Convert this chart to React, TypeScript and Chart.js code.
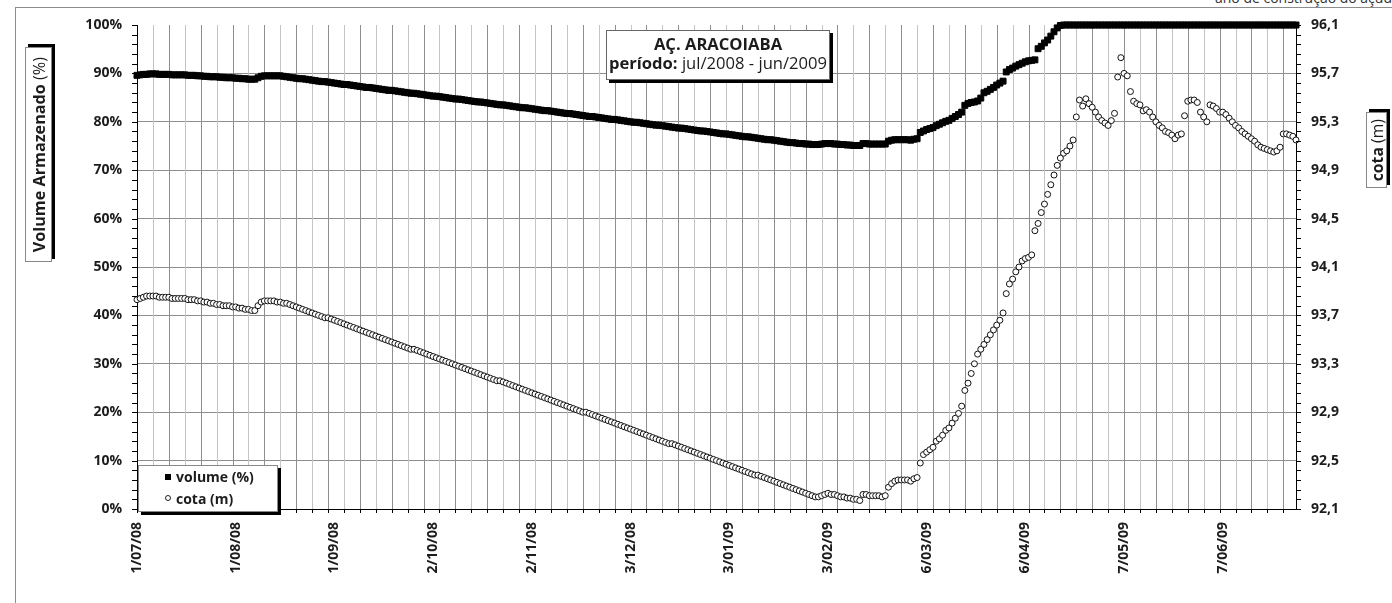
import React, { useEffect, useRef } from 'react';
import { Chart, registerables } from 'chart.js';

Chart.register(...registerables);

const xTickDays = [0, 31, 62, 93, 124, 155, 186, 217, 248, 279, 310, 341];
const xTickLabels = ['1/07/08', '1/08/08', '1/09/08', '2/10/08', '2/11/08', '3/12/08', '3/01/09', '3/02/09', '6/03/09', '6/04/09', '7/05/09', '7/06/09'];
const volumeTicks = [0, 10, 20, 30, 40, 50, 60, 70, 80, 90, 100];
const cotaTicks = [92.1, 92.5, 92.9, 93.3, 93.7, 94.1, 94.5, 94.9, 95.3, 95.7, 96.1];
const cotaTickLabels = ['92,1', '92,5', '92,9', '93,3', '93,7', '94,1', '94,5', '94,9', '95,3', '95,7', '96,1'];

// daily values, 1/07/2008 .. 30/06/2009
const volume = [
  89.6, 89.7, 89.8, 89.8, 89.9, 89.9, 89.9, 89.8, 89.8, 89.8,
  89.8, 89.7, 89.7, 89.7, 89.7, 89.7, 89.6, 89.6, 89.6, 89.5,
  89.5, 89.4, 89.4, 89.3, 89.3, 89.3, 89.2, 89.2, 89.1, 89.1,
  89.1, 89.0, 89.0, 88.9, 88.9, 88.8, 88.8, 88.8, 89.1, 89.4,
  89.5, 89.5, 89.5, 89.5, 89.5, 89.5,
  89.4, 89.3, 89.2, 89.1, 89.0, 88.9, 88.9,
  88.8, 88.7, 88.6, 88.5, 88.4, 88.3, 88.3,
  88.2, 88.1, 88.0, 87.9, 87.8, 87.7, 87.7,
  87.6, 87.5, 87.4, 87.3, 87.2, 87.1, 87.1,
  87.0, 86.9, 86.8, 86.7, 86.6, 86.5, 86.5,
  86.4, 86.3, 86.2, 86.1, 86.0, 85.9, 85.9,
  85.8, 85.7, 85.6, 85.5, 85.4, 85.3, 85.3,
  85.2, 85.1, 85.0, 84.9, 84.8, 84.7, 84.7,
  84.6, 84.5, 84.4, 84.3, 84.2, 84.1, 84.1,
  84.0, 83.9, 83.8, 83.7, 83.6, 83.5, 83.5,
  83.4, 83.3, 83.2, 83.1, 83.0, 82.9, 82.9,
  82.8, 82.7, 82.6, 82.5, 82.4, 82.3, 82.3,
  82.2, 82.1, 82.0, 81.9, 81.8, 81.7, 81.7,
  81.6, 81.5, 81.4, 81.3, 81.2, 81.1, 81.1,
  81.0, 80.9, 80.8, 80.7, 80.6, 80.5, 80.5,
  80.4, 80.3, 80.2, 80.1, 80.0, 79.9, 79.9,
  79.8, 79.7, 79.6, 79.5, 79.4, 79.3, 79.3,
  79.2, 79.1, 79.0, 78.9, 78.8, 78.7, 78.7,
  78.6, 78.5, 78.4, 78.3, 78.2, 78.1, 78.1,
  78.0, 77.9, 77.8, 77.7, 77.6, 77.5, 77.5,
  77.4, 77.3, 77.2, 77.1, 77.0, 76.9, 76.9,
  76.8, 76.7, 76.6, 76.5, 76.4, 76.3, 76.3,
  76.2, 76.1, 76.0, 75.9, 75.8, 75.7, 75.7,
  75.6, 75.5, 75.5, 75.4, 75.4, 75.3,
  75.3, 75.3, 75.4, 75.5, 75.5, 75.5, 75.4, 75.4, 75.3, 75.3,
  75.2, 75.2, 75.1, 75.1, 75.1, 75.5, 75.5, 75.4, 75.4, 75.4,
  75.4, 75.4, 75.4, 76.0, 76.2, 76.3, 76.3, 76.3, 76.3, 76.3,
  76.2, 76.4, 76.5,
  77.8, 78.1, 78.4, 78.6, 78.8, 79.2, 79.5, 79.8, 80.1, 80.3,
  80.7, 81.1, 81.5, 82.0, 83.4, 83.8, 84.0, 84.1, 84.3, 84.9,
  86.0, 86.3, 86.7, 87.1, 87.6, 88.0, 88.4, 90.3, 90.8, 91.1,
  91.5, 91.8, 92.1, 92.4, 92.6, 92.7, 92.8, 95.1, 95.6, 96.3,
  96.9, 97.7, 98.6, 99.4, 99.9,
  100, 100, 100, 100, 100, 100, 100, 100, 100, 100,
  100, 100, 100, 100, 100, 100, 100, 100, 100, 100,
  100, 100, 100, 100, 100, 100, 100, 100, 100, 100,
  100, 100, 100, 100, 100, 100, 100, 100, 100, 100,
  100, 100, 100, 100, 100, 100, 100, 100, 100, 100,
  100, 100, 100, 100, 100, 100, 100, 100, 100, 100,
  100, 100, 100, 100, 100, 100, 100, 100, 100, 100,
  100, 100, 100, 100,
];

const cota = [
  93.83, 93.84, 93.85, 93.86, 93.86, 93.86, 93.86, 93.85, 93.85, 93.85,
  93.85, 93.84, 93.84, 93.84, 93.84, 93.84, 93.83, 93.83, 93.83, 93.82,
  93.82, 93.81, 93.81, 93.80, 93.80, 93.79, 93.79, 93.78, 93.78, 93.78,
  93.77, 93.77, 93.76, 93.76, 93.75, 93.75, 93.74, 93.74, 93.78, 93.81,
  93.82, 93.82, 93.82, 93.82, 93.81, 93.81, 93.80, 93.80,
  93.79, 93.78, 93.77, 93.76, 93.75, 93.74, 93.73, 93.72, 93.71, 93.70, 93.69, 93.68,
  93.68,
  93.67, 93.66, 93.65, 93.64, 93.63, 93.62, 93.61, 93.60, 93.59, 93.58, 93.57, 93.56, 93.55,
  93.54, 93.53, 93.52, 93.51, 93.50, 93.49, 93.48, 93.47, 93.46, 93.45, 93.44, 93.43, 93.42,
  93.42,
  93.41, 93.40, 93.39, 93.38, 93.37, 93.36, 93.35, 93.34, 93.33, 93.32, 93.31, 93.30, 93.29,
  93.28, 93.27, 93.26, 93.25, 93.24, 93.23, 93.22, 93.21, 93.20, 93.19, 93.18, 93.17, 93.16,
  93.16,
  93.15, 93.14, 93.13, 93.12, 93.11, 93.10, 93.09, 93.08, 93.07, 93.06, 93.05, 93.04, 93.03,
  93.02, 93.01, 93.00, 92.99, 92.98, 92.97, 92.96, 92.95, 92.94, 92.93, 92.92, 92.91, 92.90,
  92.90,
  92.89, 92.88, 92.87, 92.86, 92.85, 92.84, 92.83, 92.82, 92.81, 92.80, 92.79, 92.78, 92.77,
  92.76, 92.75, 92.74, 92.73, 92.72, 92.71, 92.70, 92.69, 92.68, 92.67, 92.66, 92.65, 92.64,
  92.64,
  92.63, 92.62, 92.61, 92.60, 92.59, 92.58, 92.57, 92.56, 92.55, 92.54, 92.53, 92.52, 92.51,
  92.50, 92.49, 92.48, 92.47, 92.46, 92.45, 92.44, 92.43, 92.42, 92.41, 92.40, 92.39, 92.38,
  92.38,
  92.37, 92.36, 92.35, 92.34, 92.33, 92.32, 92.31, 92.30, 92.29, 92.28, 92.27, 92.26, 92.25,
  92.24, 92.23, 92.22, 92.21,
  92.20, 92.20, 92.21, 92.22, 92.23, 92.22, 92.22, 92.21, 92.20, 92.20,
  92.19, 92.19, 92.18, 92.18, 92.17, 92.22, 92.22, 92.21, 92.21, 92.21,
  92.21, 92.20, 92.21, 92.28, 92.31, 92.33, 92.34, 92.34, 92.34, 92.34,
  92.33, 92.35, 92.36,
  92.48, 92.55, 92.57, 92.59, 92.61, 92.66, 92.68, 92.71, 92.75, 92.77,
  92.81, 92.85, 92.89, 92.95, 93.08, 93.14, 93.22, 93.30, 93.38, 93.42,
  93.46, 93.50, 93.54, 93.58, 93.62, 93.66, 93.72, 93.88, 93.96, 94.00,
  94.06, 94.10, 94.15, 94.17, 94.18, 94.20, 94.40, 94.46, 94.55, 94.62,
  94.70, 94.78, 94.86, 94.94,
  95.00, 95.04, 95.06, 95.10, 95.15, 95.34, 95.48, 95.43, 95.49, 95.45,
  95.42, 95.38, 95.34, 95.31, 95.29, 95.27, 95.31, 95.37, 95.67, 95.83,
  95.70, 95.68, 95.55, 95.47, 95.45, 95.44, 95.39, 95.40, 95.38, 95.34,
  95.30, 95.27, 95.25, 95.22, 95.21, 95.19, 95.16, 95.19, 95.20, 95.35,
  95.47, 95.48, 95.48, 95.46, 95.38, 95.34, 95.30, 95.44, 95.43, 95.41,
  95.38, 95.38, 95.36, 95.33, 95.30, 95.27, 95.25, 95.22, 95.20, 95.18,
  95.16, 95.14, 95.11, 95.09, 95.08, 95.07, 95.06, 95.05, 95.06, 95.09,
  95.20, 95.20, 95.19, 95.18, 95.15,
];

const FONT = "'Open Sans', 'DejaVu Sans', sans-serif";
const INK = '#1c1c1c';

const decorPlugin = {
  id: 'decor',
  beforeDatasetsDraw(chart: any) {
    const { ctx, chartArea: a, scales } = chart;
    const x = scales.x;
    ctx.save();
    ctx.lineWidth = 1;
    for (let d = 5; d < volume.length; d += 5) {
      const px = Math.round(x.getPixelForValue(d)) + 0.5;
      ctx.strokeStyle = d % 10 === 0 ? '#8e8e8e' : '#c4c4c4';
      ctx.beginPath();
      ctx.moveTo(px, a.top);
      ctx.lineTo(px, a.bottom);
      ctx.stroke();
    }
    ctx.restore();
  },
  afterDraw(chart: any) {
    const { ctx, chartArea: a, scales } = chart;
    const x = scales.x;
    const y = scales.y;
    const y2 = scales.y2;
    ctx.save();
    ctx.lineWidth = 1;
    ctx.strokeStyle = '#000';
    ctx.beginPath();
    for (let d = 0; d < volume.length; d += 5) {
      const px = Math.round(x.getPixelForValue(d)) + 0.5;
      ctx.moveTo(px, a.bottom);
      ctx.lineTo(px, a.bottom + 4);
    }
    for (let v = 0; v <= 100; v += 2) {
      const py = Math.round(y.getPixelForValue(v)) + 0.5;
      ctx.moveTo(a.left - 5, py);
      ctx.lineTo(a.left, py);
    }
    for (let i = 0; i <= 50; i++) {
      const py = Math.round(y2.getPixelForValue(92.1 + i * 0.08)) + 0.5;
      ctx.moveTo(a.right, py);
      ctx.lineTo(a.right + 5, py);
    }
    ctx.stroke();
    ctx.restore();
  },
};

export default function App() {
  const ref = useRef<HTMLCanvasElement>(null);

  useEffect(() => {
    if (!ref.current) return;
    const tickFont = { family: FONT, size: 14, weight: 'bold' as const };
    const chart = new Chart(ref.current, {
      type: 'scatter',
      data: {
        datasets: [
          {
            label: 'volume (%)',
            data: volume.map((v, i) => ({ x: i, y: v })),
            yAxisID: 'y',
            showLine: false,
            pointStyle: 'rect',
            pointRadius: 4.2,
            borderWidth: 1,
            borderColor: '#000',
            backgroundColor: '#000',
            clip: false,
          } as any,
          {
            label: 'cota (m)',
            data: cota.map((v, i) => ({ x: i, y: v })),
            yAxisID: 'y2',
            showLine: false,
            pointStyle: 'circle',
            pointRadius: 3,
            borderWidth: 1,
            borderColor: '#111',
            backgroundColor: '#fff',
            clip: false,
          } as any,
        ],
      },
      options: {
        animation: false,
        responsive: false,
        maintainAspectRatio: false,
        events: [],
        layout: { padding: { top: 25, left: 0, right: 0, bottom: 0 } },
        plugins: {
          legend: { display: false },
          tooltip: { enabled: false },
          title: { display: false },
        },
        scales: {
          x: {
            type: 'linear',
            min: 0,
            max: volume.length - 1,
            afterBuildTicks: (s: any) => {
              s.ticks = xTickDays.map((v) => ({ value: v }));
            },
            afterFit: (s: any) => {
              s.height = 94;
            },
            grid: { display: false, drawTicks: false },
            border: { display: true, color: '#000', width: 1 },
            ticks: {
              autoSkip: false,
              minRotation: 90,
              maxRotation: 90,
              padding: 13,
              color: INK,
              font: tickFont,
              callback: (_v: any, i: number) => xTickLabels[i],
            },
          },
          y: {
            type: 'linear',
            position: 'left',
            min: 0,
            max: 100,
            afterBuildTicks: (s: any) => {
              s.ticks = volumeTicks.map((v) => ({ value: v }));
            },
            afterFit: (s: any) => {
              s.width = 137;
            },
            grid: {
              drawTicks: false,
              color: (c: any) =>
                c.tick && (c.tick.value === 0 || c.tick.value === 100) ? 'rgba(0,0,0,0)' : '#8e8e8e',
            },
            border: { display: true, color: '#000', width: 1 },
            ticks: {
              padding: 15,
              color: INK,
              font: tickFont,
              callback: (v: any) => v + '%',
            },
          },
          y2: {
            type: 'linear',
            position: 'right',
            min: 92.1,
            max: 96.1,
            afterBuildTicks: (s: any) => {
              s.ticks = cotaTicks.map((v) => ({ value: v }));
            },
            afterFit: (s: any) => {
              s.width = 96;
            },
            grid: { drawOnChartArea: false, drawTicks: false },
            border: { display: true, color: '#000', width: 1 },
            ticks: {
              padding: 15,
              color: INK,
              font: tickFont,
              callback: (_v: any, i: number) => cotaTickLabels[i],
            },
          },
        },
      } as any,
      plugins: [decorPlugin],
    });
    return () => chart.destroy();
  }, []);

  return (
    <div
      style={{
        position: 'fixed',
        left: 0,
        top: 0,
        width: 1392,
        height: 603,
        overflow: 'hidden',
        background: '#fff',
        fontFamily: FONT,
        color: INK,
      }}
    >
      <div
        style={{
          position: 'absolute',
          left: 15,
          top: 7,
          width: 1500,
          height: 700,
          borderTop: '1px solid #8c8c8c',
          borderLeft: '1px solid #8c8c8c',
        }}
      />
      <div
        style={{
          position: 'absolute',
          left: 1215,
          top: -12,
          fontSize: 14,
          whiteSpace: 'nowrap',
          color: '#333',
        }}
      >
        ano de construção do açude
      </div>
      <canvas ref={ref} width={1392} height={603} style={{ position: 'absolute', left: 0, top: 0 }} />

      {/* title box */}
      <div
        style={{
          position: 'absolute',
          left: 606,
          top: 30,
          width: 224,
          height: 50,
          boxSizing: 'border-box',
          border: '1px solid #666',
          boxShadow: '3px 3px 0 #000',
          background: '#fff',
          textAlign: 'center',
          fontSize: 16.6,
          lineHeight: '18.5px',
          paddingTop: 4,
          whiteSpace: 'nowrap',
        }}
      >
        <div style={{ fontWeight: 'bold' }}>AÇ. ARACOIABA</div>
        <div>
          <span style={{ fontWeight: 'bold' }}>período:</span> jul/2008 - jun/2009
        </div>
      </div>

      {/* left axis title */}
      <div
        style={{
          position: 'absolute',
          left: 25,
          top: 47,
          width: 27,
          height: 215,
          boxSizing: 'border-box',
          border: '1px solid #888',
          boxShadow: '3px -3px 0 #000',
          background: '#fff',
          display: 'flex',
          alignItems: 'center',
          justifyContent: 'center',
        }}
      >
        <span
          style={{
            writingMode: 'vertical-rl',
            transform: 'rotate(180deg)',
            fontSize: 16.2,
            lineHeight: '20px',
            whiteSpace: 'nowrap',
          }}
        >
          <b>Volume Armazenado</b> (%)
        </span>
      </div>

      {/* right axis title */}
      <div
        style={{
          position: 'absolute',
          left: 1366,
          top: 112,
          width: 21,
          height: 76,
          boxSizing: 'border-box',
          border: '1px solid #888',
          boxShadow: '3px -3px 0 #000',
          background: '#fff',
          display: 'flex',
          alignItems: 'center',
          justifyContent: 'center',
        }}
      >
        <span
          style={{
            writingMode: 'vertical-rl',
            transform: 'rotate(180deg)',
            fontSize: 15.8,
            lineHeight: '20px',
            whiteSpace: 'nowrap',
          }}
        >
          <b>cota</b> (m)
        </span>
      </div>

      {/* legend */}
      <div
        style={{
          position: 'absolute',
          left: 138,
          top: 465,
          width: 140,
          height: 47,
          boxSizing: 'border-box',
          border: '1px solid #888',
          boxShadow: '3px 3px 0 #000',
          background: '#fff',
          fontSize: 14,
          fontWeight: 'bold',
          lineHeight: '21.6px',
        }}
      >
        <div style={{ display: 'flex', alignItems: 'center', paddingLeft: 26 }}>
          <span style={{ width: 6, height: 6, background: '#000', display: 'inline-block', marginRight: 5 }} />
          <span>volume (%)</span>
        </div>
        <div style={{ display: 'flex', alignItems: 'center', paddingLeft: 26 }}>
          <span
            style={{
              width: 6,
              height: 6,
              border: '1px solid #222',
              borderRadius: '50%',
              boxSizing: 'border-box',
              display: 'inline-block',
              marginRight: 5,
            }}
          />
          <span>cota (m)</span>
        </div>
      </div>
    </div>
  );
}
